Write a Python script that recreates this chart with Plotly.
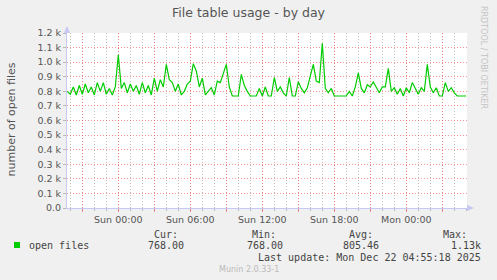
import pandas as pd
import plotly.graph_objects as go

# ---------------- data ----------------
series_name = "open files"
start_time = "2025-12-20 19:45"
step = "15min"
open_files = [
    800, 780, 830, 775, 840, 780, 850, 790, 830, 775,
    860, 800, 860, 780, 820, 775, 830, 1050, 820, 860,
    790, 850, 800, 840, 780, 860, 790, 840, 775, 890,
    800, 880, 830, 985, 880, 860, 800, 850, 775, 800,
    850, 870, 990, 940, 830, 890, 775, 800, 825, 775,
    870, 860, 920, 985, 830, 768, 768, 768, 916, 840,
    800, 768, 768, 768, 820, 768, 830, 768, 768, 895,
    800, 830, 790, 768, 895, 768, 768, 865, 820, 790,
    825, 900, 985, 870, 860, 1130, 820, 790, 820, 768,
    768, 768, 768, 768, 800, 768, 830, 927, 820, 790,
    845, 830, 864, 830, 790, 830, 830, 957, 800, 825,
    780, 820, 768, 825, 790, 860, 820, 780, 825, 800,
    985, 830, 790, 825, 768, 768, 860, 800, 825, 790,
    768, 768, 768, 768,
]
times = pd.date_range(start_time, periods=len(open_files), freq=step)

x_range = ["2025-12-20 19:43:30", "2025-12-22 05:03:30"]
y_range = [0, 1200]
x_tickvals = pd.date_range("2025-12-20 21:00", "2025-12-22 03:00", freq="3h")
x_ticktext = ["", "Sun 00:00", "", "Sun 06:00", "", "Sun 12:00", "",
              "Sun 18:00", "", "Mon 00:00", ""]
y_tickvals = list(range(0, 1201, 100))
y_ticktext = ["0.0"] + [f"{v/1000:.1f} k" for v in y_tickvals[1:]]

title = "File table usage - by day"
y_title = "number of open files"
stats_labels = ["Cur:", "Min:", "Avg:", "Max:"]
stats_values = ["768.00", "768.00", "805.46", "1.13k"]
last_update = "Last update: Mon Dec 22 04:55:18 2025"
watermark = "RRDTOOL / TOBI OETIKER"
footer = "Munin 2.0.33-1"

# ---------------- layout helpers ----------------
W, H = 497, 280
L, R, T, B = 67, 467, 33, 208


def px(x):
    return (x - L) / (R - L)


def py(y):
    return (B - y) / (B - T)


fig = go.Figure()
fig.add_trace(go.Scatter(x=times, y=open_files, mode="lines",
                         line=dict(color="#00CC00", width=1.2),
                         name=series_name, hoverinfo="skip"))

grid_red = "rgba(255,80,80,0.6)"
grid_gray = "rgba(140,140,140,0.55)"
axis_col = "#C8C8F5"
mono = "DejaVu Sans Mono"
sans = "DejaVu Sans"
dots = "1px,2px"

fig.update_layout(
    width=W, height=H,
    margin=dict(l=L, r=W - R, t=T, b=H - B),
    paper_bgcolor="#F0F0F0", plot_bgcolor="white",
    showlegend=False,
    font=dict(family=sans, size=9.5, color="#555555"),
)
fig.update_xaxes(
    type="date", range=x_range, tickmode="array",
    tickvals=x_tickvals, ticktext=x_ticktext,
    showgrid=True, gridcolor=grid_red, griddash=dots, gridwidth=1,
    ticks="outside", ticklen=3, tickcolor=grid_red,
    showline=True, linecolor=axis_col, linewidth=1,
    tickfont=dict(family=sans, size=9.5, color="#555555"),
    zeroline=False,
    minor=dict(dtick=3600000, tick0="2025-12-21 00:00", showgrid=True,
               gridcolor=grid_gray, griddash=dots, gridwidth=1,
               ticks="outside", ticklen=2, tickcolor=grid_gray),
)
fig.update_yaxes(
    range=y_range, tickmode="array", tickvals=y_tickvals, ticktext=y_ticktext,
    showgrid=True, gridcolor=grid_red, griddash=dots, gridwidth=1,
    ticks="outside", ticklen=3, tickcolor=grid_gray,
    showline=True, linecolor=axis_col, linewidth=1,
    tickfont=dict(family=sans, size=9.5, color="#555555"),
    zeroline=False,
)

# axis arrows
fig.add_shape(type="path", xref="paper", yref="paper",
              path=f"M {px(64)},{py(33)} L {px(70)},{py(33)} L {px(67)},{py(26)} Z",
              fillcolor=axis_col, line=dict(width=0))
fig.add_shape(type="path", xref="paper", yref="paper",
              path=f"M {px(467)},{py(205)} L {px(467)},{py(211)} L {px(474)},{py(208)} Z",
              fillcolor=axis_col, line=dict(width=0))

ann = []
ann.append(dict(text=title, x=px(248.5), y=py(12.5), font=dict(family=sans, size=12.5, color="#555555")))
ann.append(dict(text=y_title, x=px(10.5), y=py(120), textangle=-90,
                font=dict(family=sans, size=11, color="#555555")))
ann.append(dict(text=watermark, x=px(484), y=py(57), textangle=90,
                font=dict(family=sans, size=8, color="#C4C4C4")))

# legend
fig.add_shape(type="rect", xref="paper", yref="paper",
              x0=px(14), x1=px(20), y0=py(248), y1=py(242),
              fillcolor="#00CC00", line=dict(width=0))
ann.append(dict(text=series_name, x=px(27), y=py(245.5), xanchor="left",
                font=dict(family=mono, size=10, color="#444444")))
label_x = [165.5, 263.5, 360.5, 469]
value_x = [166, 264.5, 361, 483]
for i, (lab, val) in enumerate(zip(stats_labels, stats_values)):
    anchor = "center" if i < 3 else "right"
    ann.append(dict(text=lab, x=px(label_x[i]), y=py(234), xanchor=anchor,
                    font=dict(family=mono, size=10, color="#444444")))
    ann.append(dict(text=val, x=px(value_x[i]), y=py(245.5), xanchor=anchor,
                    font=dict(family=mono, size=10, color="#444444")))
ann.append(dict(text=last_update, x=px(483), y=py(257.5), xanchor="right",
                font=dict(family=mono, size=10, color="#444444")))
ann.append(dict(text=footer, x=px(248.5), y=py(269), xanchor="center",
                font=dict(family=sans, size=8, color="#BBBBBB")))

for a in ann:
    a.setdefault("xanchor", "center")
    a.update(xref="paper", yref="paper", yanchor="middle", showarrow=False)
    fig.add_annotation(**a)

fig.write_html("out.html")
